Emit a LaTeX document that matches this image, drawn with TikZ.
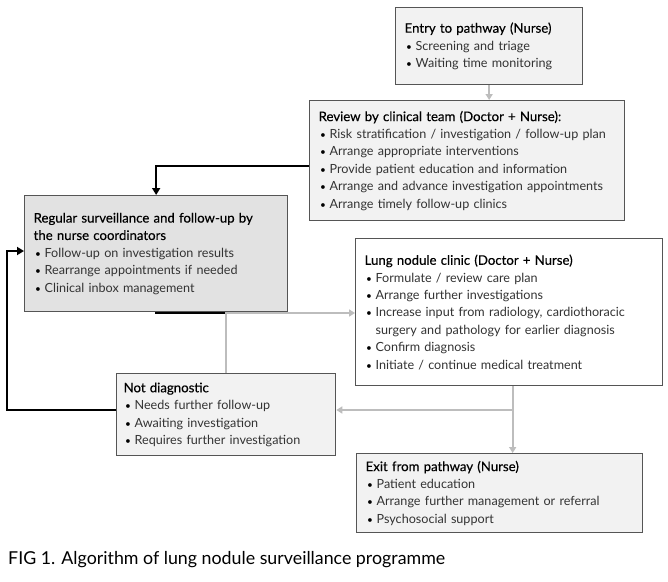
\documentclass[tikz,border=0pt]{standalone}
\usepackage{fontspec}
\setmainfont{Lato}
\newfontfamily\titlefont[FakeBold=0.3]{Lato}
\usetikzlibrary{arrows.meta}
\definecolor{boxline}{HTML}{555555}
\definecolor{lightfill}{HTML}{F2F2F2}
\definecolor{darkfill}{HTML}{E2E2E2}
\definecolor{garrow}{HTML}{BDBDBD}
\definecolor{btext}{HTML}{333333}
\newcommand{\ttl}[1]{{\titlefont\fontsize{13.2}{17.4}\selectfont\mbox{#1}}}
\newcommand{\bitem}[1]{\par\makebox[11pt][l]{\hspace{1.5pt}\scalebox{0.8}{•}}{\color{btext}\mbox{#1}}}
\newcommand{\cont}[1]{\par\hspace*{11pt}{\color{btext}\mbox{#1}}}
\tikzset{
  box/.style={draw=boxline, line width=1.3pt, anchor=north west, inner xsep=9pt, inner ysep=0pt,
    align=left, font=\fontsize{12.6}{17.4}\selectfont},
  garr/.style={draw=garrow, line width=2pt, -{Triangle[width=7pt,length=6pt]}},
  barr/.style={draw=black, line width=2.6pt, -{Triangle[width=8pt,length=7pt]}},
  bline/.style={draw=black, line width=2.6pt},
}
\begin{document}
\begin{tikzpicture}[x=1pt,y=-1pt]
\useasboundingbox[fill=white] (0,0) rectangle (668,581);
\node[box, fill=lightfill, minimum width=187pt, minimum height=77pt, text width=169pt] (entry) at (395,7)
 {\ttl{Entry to pathway (Nurse)}\bitem{Screening and triage}\bitem{Waiting time monitoring}};
\node[box, fill=lightfill, minimum width=315pt, minimum height=120pt, text width=297pt] (review) at (309,100)
 {\ttl{Review by clinical team (Doctor + Nurse):}\bitem{Risk stratification / investigation / follow-up plan}\bitem{Arrange appropriate interventions}\bitem{Provide patient education and information}\bitem{Arrange and advance investigation appointments}\bitem{Arrange timely follow-up clinics}};
\node[box, fill=darkfill, minimum width=263pt, minimum height=116pt, text width=245pt] (surv) at (24,195)
 {\ttl{Regular surveillance and follow-up by}\par\ttl{the nurse coordinators}\bitem{Follow-up on investigation results}\bitem{Rearrange appointments if needed}\bitem{Clinical inbox management}};
\node[box, fill=white, minimum width=307pt, minimum height=147pt, text width=289pt] (lung) at (355,238)
 {\ttl{Lung nodule clinic (Doctor + Nurse)}\bitem{Formulate / review care plan}\bitem{Arrange further investigations}\bitem{Increase input from radiology, cardiothoracic}\cont{surgery and pathology for earlier diagnosis}\bitem{Confirm diagnosis}\bitem{Initiate / continue medical treatment}};
\node[box, fill=lightfill, minimum width=219pt, minimum height=82pt, text width=205pt, inner xsep=7pt] (nd) at (116,373)
 {\ttl{Not diagnostic}\bitem{Needs further follow-up}\bitem{Awaiting investigation}\bitem{Requires further investigation}};
\node[box, fill=lightfill, minimum width=286pt, minimum height=79pt, text width=268pt] (exit) at (356,453)
 {\ttl{Exit from pathway (Nurse)}\bitem{Patient education}\bitem{Arrange further management or referral}\bitem{Psychosocial support}};
\node[anchor=west, inner sep=0pt, font=\fontsize{17.8}{20}\selectfont] (cap) at (8,560)
 {FIG 1. Algorithm of lung nodule surveillance programme};
% connectors
\draw[garr] (entry.south) -- (entry.south |- review.north);
\draw[barr] (review.west |- 0,166) -| (surv.north);
\coordinate (j1) at (nd.north |- 0,313);
\draw[bline] (surv.south) |- (j1);
\draw[garr] (nd.north) |- (lung.west |- j1);
\coordinate (ls) at ([xshift=3.5pt]lung.south);
\draw[garr] (ls) -- (ls |- exit.north);
\draw[garr] (ls |- 0,410) -- (nd.east |- 0,410);
\coordinate (lc) at (7,251);
\draw[barr] (nd.west |- 0,410) -| (lc) -- (surv.west |- lc);
\end{tikzpicture}
\end{document}
